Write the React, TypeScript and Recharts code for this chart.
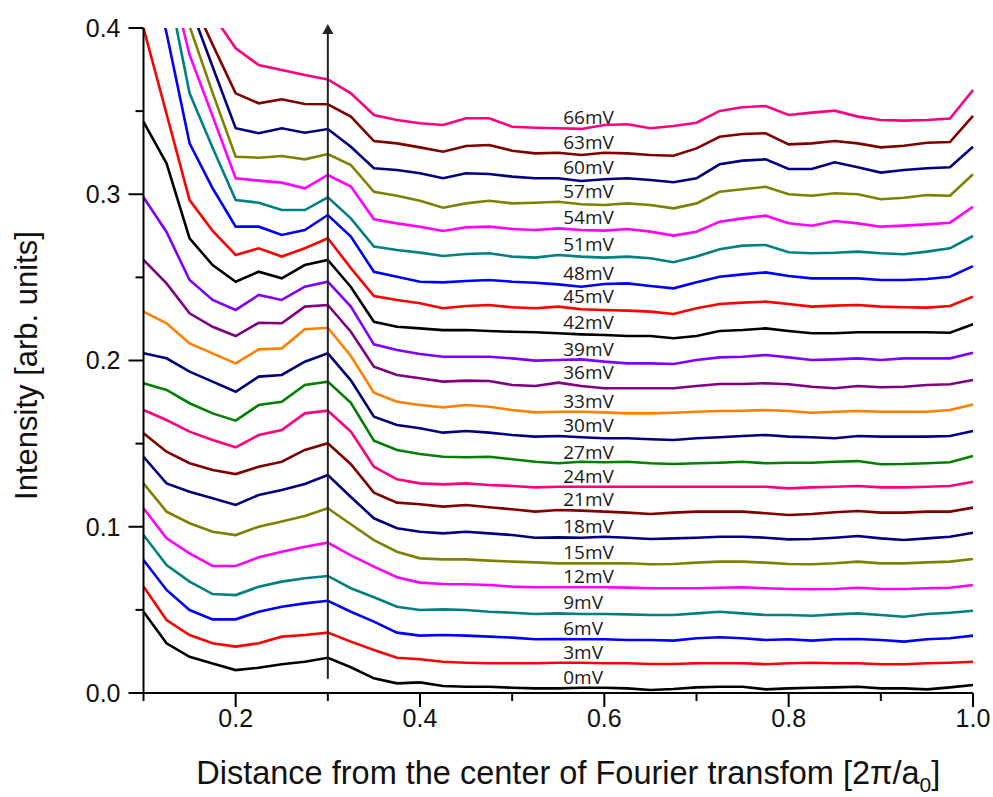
import React from "react";
import {
  LineChart,
  Line,
  XAxis,
  YAxis,
  ReferenceLine,
  LabelList,
} from "recharts";

// distance from the FFT centre, in units of 2π/a0
const distance = [
  0.1, 0.125, 0.15, 0.175, 0.2, 0.225, 0.25, 0.275, 0.3, 0.325, 0.35, 0.375,
  0.4, 0.425, 0.45, 0.475, 0.5, 0.525, 0.55, 0.575, 0.6, 0.625, 0.65, 0.675,
  0.7, 0.725, 0.75, 0.775, 0.8, 0.825, 0.85, 0.875, 0.9, 0.925, 0.95, 0.975,
  1.0,
];

// intensity profiles, one per bias voltage
const mV0 = [
  0.0489, 0.0299, 0.0218, 0.0178, 0.0138, 0.0152, 0.0173, 0.0188, 0.0212, 0.0155, 0.0088,
  0.0058, 0.0064, 0.0042, 0.0038, 0.0038, 0.0032, 0.0028, 0.0028, 0.0032, 0.0032, 0.0028, 0.0018,
  0.0024, 0.0034, 0.0038, 0.0038, 0.0022, 0.0028, 0.0032, 0.0034, 0.0038, 0.0028, 0.0028, 0.0022, 0.0034, 0.0048,
];
const mV3 = [
  0.064, 0.0439, 0.0349, 0.0299, 0.0279, 0.0299, 0.0339, 0.0349, 0.0363, 0.0309, 0.0259,
  0.0212, 0.0203, 0.0188, 0.0182, 0.0179, 0.0179, 0.0179, 0.0182, 0.0182, 0.0179, 0.0179, 0.0174,
  0.0174, 0.0179, 0.0179, 0.0179, 0.0173, 0.0179, 0.0182, 0.0179, 0.0179, 0.0173, 0.0173, 0.0179, 0.0182, 0.0188,
];
const mV6 = [
  0.08, 0.062, 0.0499, 0.0443, 0.0443, 0.0489, 0.0519, 0.0539, 0.0555, 0.0489, 0.0429,
  0.0363, 0.0345, 0.0349, 0.0345, 0.0339, 0.0333, 0.0323, 0.0325, 0.0323, 0.0323, 0.0319, 0.0319,
  0.0315, 0.0329, 0.0335, 0.0329, 0.0319, 0.0323, 0.0315, 0.0323, 0.0325, 0.0319, 0.0309, 0.0323, 0.0329, 0.0345,
];
const mV9 = [
  0.095, 0.077, 0.067, 0.0595, 0.0589, 0.0639, 0.067, 0.069, 0.0704, 0.063, 0.0576,
  0.0519, 0.0499, 0.0503, 0.0499, 0.0489, 0.0483, 0.0475, 0.0479, 0.0475, 0.0475, 0.0473, 0.0469,
  0.0469, 0.0479, 0.0489, 0.0479, 0.0469, 0.0469, 0.0465, 0.0473, 0.0479, 0.0469, 0.0459, 0.0475, 0.0483, 0.0495,
];
const mV12 = [
  0.1111, 0.093, 0.084, 0.0764, 0.0764, 0.0816, 0.085, 0.088, 0.0904, 0.0828, 0.076,
  0.0696, 0.0664, 0.0656, 0.0654, 0.065, 0.064, 0.0636, 0.0636, 0.0636, 0.0636, 0.0634, 0.063,
  0.063, 0.063, 0.0633, 0.0636, 0.063, 0.0626, 0.0624, 0.0626, 0.0633, 0.0626, 0.0626, 0.063, 0.0633, 0.065,
];
const mV15 = [
  0.1261, 0.1091, 0.1021, 0.097, 0.095, 0.1, 0.1031, 0.1065, 0.1111, 0.1015, 0.092,
  0.085, 0.081, 0.0804, 0.0804, 0.0796, 0.079, 0.0786, 0.078, 0.078, 0.078, 0.078, 0.0774,
  0.0776, 0.0784, 0.079, 0.079, 0.0784, 0.0776, 0.0774, 0.078, 0.079, 0.078, 0.078, 0.0786, 0.079, 0.0806,
];
const mV18 = [
  0.1421, 0.1261, 0.1211, 0.1171, 0.1131, 0.1191, 0.1221, 0.1257, 0.1311, 0.1179, 0.1051,
  0.0991, 0.097, 0.096, 0.097, 0.096, 0.095, 0.0934, 0.0936, 0.0934, 0.094, 0.0934, 0.0926,
  0.093, 0.0934, 0.094, 0.094, 0.0934, 0.0924, 0.0926, 0.0934, 0.0944, 0.093, 0.092, 0.093, 0.094, 0.0964,
];
const mV21 = [
  0.1562, 0.1451, 0.1382, 0.1341, 0.1317, 0.1361, 0.1391, 0.1462, 0.1502, 0.1376, 0.1205,
  0.1145, 0.1135, 0.1121, 0.1131, 0.1117, 0.1105, 0.1091, 0.1101, 0.1097, 0.1091, 0.1085, 0.1077,
  0.1085, 0.1091, 0.1091, 0.1091, 0.1081, 0.1071, 0.1077, 0.1087, 0.1095, 0.1085, 0.1085, 0.1091, 0.1091, 0.1115,
];
const mV24 = [
  0.1702, 0.1642, 0.1572, 0.1522, 0.1478, 0.1552, 0.1582, 0.1682, 0.1698, 0.1572, 0.1361,
  0.1285, 0.1261, 0.1255, 0.1261, 0.1251, 0.1245, 0.1237, 0.1241, 0.1241, 0.1241, 0.1241, 0.1241,
  0.1241, 0.1241, 0.1241, 0.1241, 0.1241, 0.1231, 0.1237, 0.1241, 0.1245, 0.1237, 0.1237, 0.1241, 0.1245, 0.1271,
];
const mV27 = [
  0.1863, 0.1823, 0.1743, 0.1682, 0.1638, 0.1732, 0.1752, 0.1853, 0.1873, 0.1746, 0.1518,
  0.1462, 0.1438, 0.1421, 0.1418, 0.1421, 0.1406, 0.1391, 0.1382, 0.1391, 0.1388, 0.1391, 0.1382,
  0.1377, 0.1382, 0.1385, 0.1391, 0.1382, 0.1385, 0.1385, 0.1391, 0.1395, 0.1376, 0.1377, 0.1382, 0.1388, 0.1426,
];
const mV30 = [
  0.2043, 0.2013, 0.1933, 0.1873, 0.1812, 0.1903, 0.1913, 0.1993, 0.2043, 0.1881, 0.1662,
  0.1612, 0.1592, 0.1566, 0.1576, 0.1566, 0.1552, 0.1542, 0.1546, 0.1538, 0.1532, 0.1532, 0.1526,
  0.1522, 0.1532, 0.1538, 0.1546, 0.1552, 0.1542, 0.1538, 0.1532, 0.1546, 0.1542, 0.1542, 0.1542, 0.1546, 0.1576,
];
const mV33 = [
  0.2294, 0.2224, 0.2103, 0.2043, 0.1983, 0.2067, 0.2073, 0.2188, 0.2197, 0.2027, 0.1806,
  0.1752, 0.1732, 0.1718, 0.1732, 0.1722, 0.1702, 0.1688, 0.1692, 0.1692, 0.1688, 0.1682, 0.1682,
  0.1686, 0.1692, 0.1696, 0.1698, 0.1702, 0.1696, 0.1686, 0.1692, 0.1696, 0.1692, 0.1692, 0.1692, 0.1702, 0.1736,
];
const mV36 = [
  0.2605, 0.2464, 0.2284, 0.2203, 0.2147, 0.2227, 0.2224, 0.2324, 0.2334, 0.2173, 0.1963,
  0.1913, 0.1893, 0.1873, 0.1879, 0.1877, 0.1853, 0.1847, 0.1867, 0.1847, 0.1833, 0.1833, 0.1833,
  0.1833, 0.1847, 0.1859, 0.1859, 0.1863, 0.1857, 0.1842, 0.1833, 0.1847, 0.1839, 0.1842, 0.1853, 0.1857, 0.1883,
];
const mV39 = [
  0.2982, 0.2773, 0.2484, 0.2364, 0.2304, 0.2394, 0.2364, 0.2444, 0.2474, 0.2324, 0.2097,
  0.2063, 0.2039, 0.2023, 0.2023, 0.2023, 0.2013, 0.1999, 0.2003, 0.2007, 0.1993, 0.1983, 0.1983,
  0.1979, 0.2003, 0.2019, 0.2023, 0.2033, 0.2019, 0.2003, 0.2007, 0.2013, 0.2003, 0.2013, 0.2013, 0.2013, 0.2047,
];
const mV42 = [
  0.3436, 0.3186, 0.2735, 0.2574, 0.2474, 0.2534, 0.2494, 0.2574, 0.2605, 0.2442, 0.2233,
  0.2203, 0.2193, 0.2183, 0.2183, 0.2177, 0.2173, 0.217, 0.2164, 0.2157, 0.2153, 0.2147, 0.2147,
  0.2134, 0.2147, 0.2177, 0.2183, 0.2193, 0.2177, 0.2164, 0.2164, 0.217, 0.217, 0.217, 0.217, 0.2167, 0.2218,
];
const mV45 = [
  0.4, 0.3483, 0.2965, 0.278, 0.2635, 0.2675, 0.2625, 0.2675, 0.2735, 0.2556, 0.2388,
  0.2364, 0.2344, 0.2314, 0.2328, 0.2334, 0.232, 0.2314, 0.2324, 0.2308, 0.2304, 0.23, 0.2294,
  0.228, 0.2314, 0.234, 0.2348, 0.2354, 0.234, 0.2324, 0.233, 0.2334, 0.2324, 0.232, 0.2318, 0.2328, 0.2384,
];
const mV48 = [
  0.45, 0.397, 0.3306, 0.3036, 0.2805, 0.2805, 0.2755, 0.2785, 0.2875, 0.2745, 0.2534,
  0.2504, 0.2474, 0.247, 0.2478, 0.2484, 0.2474, 0.2468, 0.2458, 0.2444, 0.246, 0.2464, 0.2448,
  0.2434, 0.247, 0.2504, 0.2518, 0.253, 0.2508, 0.2494, 0.2494, 0.2494, 0.2484, 0.2484, 0.249, 0.2504, 0.2568,
];
const mV51 = [
  0.47, 0.43, 0.3607, 0.328, 0.2965, 0.2949, 0.2905, 0.2905, 0.2982, 0.2855, 0.2685,
  0.2665, 0.2649, 0.2629, 0.2641, 0.2645, 0.2625, 0.2619, 0.2635, 0.2625, 0.2619, 0.2625, 0.2615,
  0.2591, 0.2625, 0.2669, 0.2691, 0.2695, 0.2651, 0.2645, 0.2648, 0.2655, 0.2645, 0.2639, 0.2655, 0.2675, 0.2749,
];
const mV54 = [
  0.48, 0.44, 0.3838, 0.347, 0.3096, 0.3082, 0.307, 0.3036, 0.3116, 0.3046, 0.2849,
  0.2825, 0.2805, 0.2779, 0.2801, 0.2805, 0.2791, 0.2785, 0.2795, 0.2785, 0.2781, 0.2791, 0.2775,
  0.2751, 0.2775, 0.2835, 0.2855, 0.2871, 0.2825, 0.2811, 0.2839, 0.2825, 0.2805, 0.2811, 0.2819, 0.2829, 0.2925,
];
const mV57 = [
  0.48, 0.44, 0.401, 0.361, 0.3226, 0.322, 0.323, 0.321, 0.3242, 0.3176, 0.3015,
  0.2991, 0.2961, 0.2919, 0.2945, 0.2961, 0.2945, 0.2949, 0.2955, 0.294, 0.2935, 0.2945, 0.2935,
  0.2915, 0.2945, 0.3015, 0.303, 0.3045, 0.3, 0.2991, 0.3006, 0.3, 0.297, 0.2979, 0.2995, 0.2991, 0.312,
];
const mV60 = [
  0.5, 0.455, 0.414, 0.3767, 0.3397, 0.3367, 0.3397, 0.337, 0.3392, 0.3286, 0.3156,
  0.3146, 0.3126, 0.3096, 0.3126, 0.3122, 0.3106, 0.3096, 0.3096, 0.308, 0.309, 0.3096, 0.3086,
  0.3072, 0.3096, 0.318, 0.3202, 0.321, 0.3152, 0.3152, 0.3192, 0.3162, 0.313, 0.3146, 0.3156, 0.3162, 0.3286,
];
const mV63 = [
  0.5, 0.46, 0.42, 0.39, 0.3607, 0.3547, 0.3571, 0.3543, 0.3541, 0.3467, 0.332,
  0.3306, 0.3282, 0.3256, 0.329, 0.3296, 0.3262, 0.3246, 0.325, 0.3236, 0.325, 0.3246, 0.3236,
  0.3232, 0.3276, 0.3346, 0.3362, 0.3367, 0.33, 0.3306, 0.332, 0.3306, 0.3282, 0.3292, 0.331, 0.3314, 0.3471,
];
const mV66 = [
  0.52, 0.48, 0.44, 0.408, 0.3878, 0.3777, 0.3747, 0.3717, 0.3691, 0.3607, 0.3477,
  0.3447, 0.3427, 0.3417, 0.3457, 0.3457, 0.3406, 0.34, 0.3397, 0.3393, 0.3417, 0.3421, 0.3397,
  0.3411, 0.343, 0.3501, 0.3523, 0.3531, 0.3477, 0.3491, 0.3503, 0.3467, 0.3447, 0.3443, 0.3447, 0.3455, 0.3627,
];

const seriesNames = [
  "0mV", "3mV", "6mV", "9mV", "12mV", "15mV", "18mV", "21mV", "24mV", "27mV", "30mV", "33mV",
  "36mV", "39mV", "42mV", "45mV", "48mV", "51mV", "54mV", "57mV", "60mV", "63mV", "66mV",
];
const seriesValues = [
  mV0, mV3, mV6, mV9, mV12, mV15, mV18, mV21, mV24, mV27, mV30, mV33,
  mV36, mV39, mV42, mV45, mV48, mV51, mV54, mV57, mV60, mV63, mV66,
];
const seriesColors = [
  "#000000", "#ff0000", "#0000ff", "#008080", "#ff00ff", "#808000", "#000080", "#800000",
  "#ff0080", "#008000", "#000080", "#ff8000", "#800080", "#8000ff", "#000000", "#ff0000",
  "#0000ff", "#008080", "#ff00ff", "#808000", "#000080", "#800000", "#ff0080",
];

const xTicks = [0.1, 0.2, 0.3, 0.4, 0.5, 0.6, 0.7, 0.8, 0.9, 1.0];
const xLabelled = [0.2, 0.4, 0.6, 0.8, 1.0];
const yTicks = [0, 0.05, 0.1, 0.15, 0.2, 0.25, 0.3, 0.35, 0.4];
const yLabelled = [0, 0.1, 0.2, 0.3, 0.4];

// point index where each curve gets its name
const LABEL_INDEX = 18;

const rows = distance.map((d, i) => {
  const row: Record<string, number> = { d };
  seriesNames.forEach((name, s) => {
    row[name] = seriesValues[s][i];
  });
  return row;
});

const axisFont = "'Liberation Sans', Arial, sans-serif";

function XTick(props: any) {
  const { x, y, payload } = props;
  const major = xLabelled.includes(payload.value);
  return (
    <g>
      <line x1={x} x2={x} y1={y} y2={y + (major ? 14 : 8)} stroke="#000" strokeWidth={2} />
      {major && (
        <text x={x} y={y + 34} textAnchor="middle" fontFamily={axisFont} fontSize={25} fill="#111">
          {payload.value.toFixed(1)}
        </text>
      )}
    </g>
  );
}

function YTick(props: any) {
  const { x, y, payload } = props;
  const major = yLabelled.includes(payload.value);
  return (
    <g>
      <line x1={x} x2={x - (major ? 15 : 8)} y1={y} y2={y} stroke="#000" strokeWidth={2} />
      {major && (
        <text x={x - 23} y={y} dy="0.35em" textAnchor="end" fontFamily={axisFont} fontSize={25} fill="#111">
          {payload.value.toFixed(1)}
        </text>
      )}
    </g>
  );
}

function Arrow(props: any) {
  const { x1, y1, x2, y2 } = props;
  return (
    <g>
      <line x1={x1} y1={y1} x2={x2} y2={y2 + 4} stroke="#222" strokeWidth={2} />
      <polygon points={`${x2},${y2 - 4} ${x2 - 5.5},${y2 + 6} ${x2 + 5.5},${y2 + 6}`} fill="#222" />
    </g>
  );
}

export default function App() {
  return (
    <div style={{ position: "absolute", left: 0, top: 0, width: 993, height: 797, background: "#fff" }}>
      <LineChart
        width={993}
        height={797}
        data={rows}
        margin={{ top: 28, right: 20, bottom: 0, left: 0 }}
        style={{ overflow: "visible" }}
      >
        <XAxis
          dataKey="d"
          type="number"
          domain={[0.1, 1.0]}
          ticks={xTicks}
          interval={0}
          height={104}
          tickSize={0}
          tickMargin={0}
          tick={<XTick />}
          axisLine={{ stroke: "#000", strokeWidth: 2 }}
          label={{
            content: (p: any) => {
              const vb = p.viewBox;
              return (
                <text
                  x={vb.x + vb.width / 2 + 10}
                  y={vb.y + 91}
                  textAnchor="middle"
                  fontFamily={axisFont}
                  fontSize={32.5}
                  fill="#111"
                >
                  Distance from the center of Fourier transfom [2π/a
                  <tspan fontSize={21} dy={8}>0</tspan>
                  <tspan dy={-8}>]</tspan>
                </text>
              );
            },
          }}
        />
        <YAxis
          type="number"
          domain={[0, 0.4]}
          ticks={yTicks}
          interval={0}
          allowDataOverflow
          width={143.5}
          tickSize={0}
          tickMargin={0}
          tick={<YTick />}
          axisLine={{ stroke: "#000", strokeWidth: 2 }}
          label={{
            content: (p: any) => {
              const vb = p.viewBox;
              const cx = vb.x + 37;
              const cy = vb.y + vb.height / 2 + 5;
              return (
                <text
                  x={cx}
                  y={cy}
                  transform={`rotate(-90 ${cx} ${cy})`}
                  textAnchor="middle"
                  fontFamily={axisFont}
                  fontSize={31}
                  fill="#111"
                >
                  Intensity [arb. units]
                </text>
              );
            },
          }}
        />
        {seriesNames.map((name, s) => (
          <Line
            key={name}
            dataKey={name}
            type="linear"
            stroke={seriesColors[s]}
            strokeWidth={2.6}
            dot={false}
            isAnimationActive={false}
          >
            <LabelList
              dataKey={name}
              content={(p: any) =>
                p.index === LABEL_INDEX ? (
                  <text
                    x={p.x + 5}
                    y={p.y - 4}
                    fontFamily="'Open Sans', sans-serif"
                    fontSize={19}
                    fill="#1a1a1a"
                  >
                    {name}
                  </text>
                ) : null
              }
            />
          </Line>
        ))}
        <ReferenceLine
          segment={[
            { x: 0.3, y: 0.0085 },
            { x: 0.3, y: 0.4 },
          ]}
          ifOverflow="visible"
          shape={<Arrow />}
        />
      </LineChart>
    </div>
  );
}
